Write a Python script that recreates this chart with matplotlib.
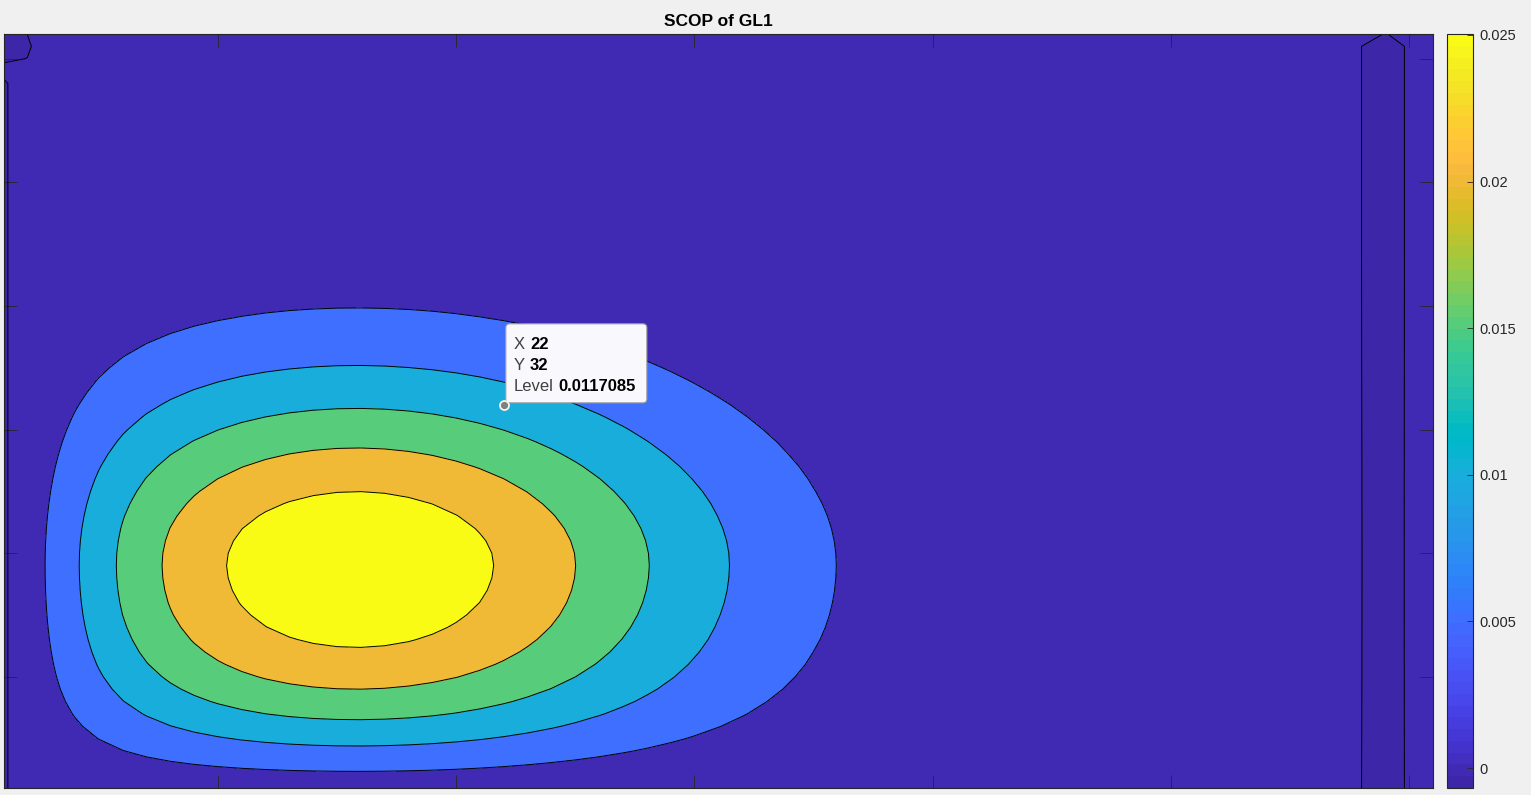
import numpy as np
import matplotlib
matplotlib.use("Agg")
import matplotlib.pyplot as plt
from matplotlib.colors import ListedColormap, Normalize
from matplotlib.cm import ScalarMappable
from matplotlib.patches import FancyBboxPatch
from matplotlib.transforms import IdentityTransform

plt.rcParams["font.family"] = ["Liberation Sans", "DejaVu Sans"]

# grid of the map
x_vals = np.arange(1, 62)
y_vals = np.arange(1, 63)

# contour levels and colour limits
levels = [0.0, 0.005, 0.01, 0.015, 0.02, 0.025]
c_min, c_max = -0.00068, 0.02503
cbar_ticks = [0, 0.005, 0.01, 0.015, 0.02, 0.025]
cbar_labels = ["0", "0.005", "0.01", "0.015", "0.02", "0.025"]

# hot spot shape, estimated from where each contour crosses the axes
peak = 0.0292
peak_x, peak_y = 15.7, 18.8
width_x = 10.8
width_y_low, width_y_high = 14.0, 11.2
wall_x, wall_x_len = 1.2, 4.2
wall_y, wall_y_len = 0.0, 6.6

# dark column near the right edge (x, added value)
dip_x = [58, 59, 60]
dip_val = [0.0, -0.00068, 0.00017]

# a few edge cells read directly (x, y, value)
cells_x = [1, 1, 1, 1, 2, 2, 2, 58, 59, 60]
cells_y = [59, 60, 61, 62, 60, 61, 62, 62, 62, 62]
cells_v = [2e-6, -1e-6, -1e-6, -1e-6, 1.1e-7, -1e-6, 4e-8, 9e-8, -1e-8, 9e-8]

# data tip
tip_x, tip_y, tip_level = 22, 32, "0.0117085"

# MATLAB parula(64)
parula = [
    [0.2422, 0.1504, 0.6603], [0.2504, 0.1650, 0.7076], [0.2578, 0.1818, 0.7511],
    [0.2647, 0.1978, 0.7952], [0.2706, 0.2147, 0.8364], [0.2751, 0.2342, 0.8710],
    [0.2783, 0.2559, 0.8991], [0.2803, 0.2782, 0.9221], [0.2813, 0.3006, 0.9414],
    [0.2810, 0.3228, 0.9579], [0.2795, 0.3447, 0.9717], [0.2760, 0.3667, 0.9829],
    [0.2699, 0.3892, 0.9906], [0.2602, 0.4123, 0.9952], [0.2440, 0.4358, 0.9988],
    [0.2206, 0.4603, 0.9973], [0.1963, 0.4847, 0.9892], [0.1834, 0.5074, 0.9798],
    [0.1786, 0.5289, 0.9682], [0.1764, 0.5499, 0.9520], [0.1687, 0.5703, 0.9359],
    [0.1540, 0.5902, 0.9218], [0.1460, 0.6091, 0.9079], [0.1380, 0.6276, 0.8973],
    [0.1248, 0.6459, 0.8883], [0.1113, 0.6635, 0.8763], [0.0952, 0.6798, 0.8598],
    [0.0689, 0.6948, 0.8394], [0.0297, 0.7082, 0.8163], [0.0036, 0.7203, 0.7917],
    [0.0067, 0.7312, 0.7660], [0.0433, 0.7411, 0.7394], [0.0964, 0.7500, 0.7120],
    [0.1408, 0.7584, 0.6842], [0.1717, 0.7670, 0.6554], [0.1938, 0.7758, 0.6251],
    [0.2161, 0.7843, 0.5923], [0.2470, 0.7918, 0.5567], [0.2906, 0.7973, 0.5188],
    [0.3406, 0.8008, 0.4789], [0.3909, 0.8029, 0.4354], [0.4456, 0.8024, 0.3909],
    [0.5044, 0.7993, 0.3480], [0.5616, 0.7942, 0.3045], [0.6174, 0.7876, 0.2612],
    [0.6720, 0.7793, 0.2227], [0.7242, 0.7698, 0.1910], [0.7738, 0.7598, 0.1646],
    [0.8203, 0.7498, 0.1535], [0.8634, 0.7406, 0.1596], [0.9035, 0.7330, 0.1774],
    [0.9393, 0.7288, 0.2100], [0.9728, 0.7298, 0.2394], [0.9956, 0.7434, 0.2371],
    [0.9970, 0.7659, 0.2199], [0.9952, 0.7893, 0.2028], [0.9892, 0.8136, 0.1885],
    [0.9786, 0.8386, 0.1766], [0.9676, 0.8639, 0.1643], [0.9610, 0.8890, 0.1537],
    [0.9597, 0.9135, 0.1423], [0.9628, 0.9373, 0.1265], [0.9691, 0.9606, 0.1064],
    [0.9769, 0.9839, 0.0805],
]


def build_field():
    X, Y = np.meshgrid(x_vals, y_vals)
    gx = np.exp(-(X - peak_x) ** 2 / (2 * width_x ** 2)) * np.tanh((X - wall_x) / wall_x_len)
    sy = np.where(Y < peak_y, width_y_low, width_y_high)
    gy = np.exp(-(Y - peak_y) ** 2 / (2 * sy ** 2)) * np.tanh((Y - wall_y) / wall_y_len)
    Z = peak * gx * gy
    for xd, v in zip(dip_x, dip_val):
        Z[:, xd - 1] += v
    for cx, cy, v in zip(cells_x, cells_y, cells_v):
        Z[cy - 1, cx - 1] = v
    return X, Y, Z


def main():
    X, Y, Z = build_field()
    cmap = ListedColormap(parula)
    norm = Normalize(c_min, c_max)

    fill_levels = [Z.min()] + levels + [Z.max()]
    fill_colors = [cmap(norm(v)) for v in fill_levels[:-1]]

    fig = plt.figure(figsize=(15.31, 7.95), dpi=100, facecolor="#f0f0f0")
    ax = fig.add_axes([3.5 / 1531, 7 / 795, 1429.5 / 1531, 754 / 795])
    ax.contourf(X, Y, Z, levels=fill_levels, colors=fill_colors)
    ax.contour(X, Y, Z, levels=levels, colors="k", linewidths=0.7)
    ax.set_xlim(1, 61)
    ax.set_ylim(1, 62)
    ax.set_xticks(range(10, 61, 10))
    ax.set_yticks(range(10, 61, 10))
    ax.tick_params(direction="in", length=9.5, width=0.6, top=True, right=True,
                   labelleft=False, labelbottom=False, colors="#262626")
    for s in ax.spines.values():
        s.set_color("#262626")
        s.set_linewidth(0.8)
    ax.set_title("SCOP of GL1", fontsize=12.5, fontweight="bold", pad=5.5)

    cax = fig.add_axes([1447 / 1531, 7 / 795, 26 / 1531, 754 / 795])
    cb = fig.colorbar(ScalarMappable(norm=norm, cmap=cmap), cax=cax)
    cb.set_ticks(cbar_ticks, labels=cbar_labels)
    cax.tick_params(direction="in", length=4.5, width=0.6, labelsize=10.5,
                    colors="#262626", pad=4.5)
    cb.outline.set_edgecolor("#262626")
    cb.outline.set_linewidth(0.8)

    # data tip
    ax.plot(tip_x, tip_y, "o", ms=6.5, mfc="#808080", mec="#f4f4ec", mew=1.3,
            zorder=6, clip_on=False)
    ax_px = ax.transData.transform((tip_x, tip_y))
    box = FancyBboxPatch((ax_px[0] + 2, ax_px[1] + 2), 141, 79,
                         boxstyle="round,pad=0,rounding_size=4",
                         fc="#f9f9fd", ec="#a0a0a0", lw=0.8, zorder=5,
                         clip_on=False)
    ax.add_artist(box)
    box.set_transform(IdentityTransform())
    rows = [("X", str(tip_x), 56), ("Y", str(tip_y), 35), ("Level", tip_level, 14)]
    for lab, val, dy in rows:
        t = ax.annotate(lab, xy=(tip_x, tip_y), xytext=(10, dy),
                        textcoords="offset pixels", fontsize=12, color="#404040",
                        va="baseline", ha="left", zorder=7, annotation_clip=False)
        ax.annotate(val, xy=(1, 0), xycoords=t, xytext=(5, 0),
                    textcoords="offset pixels", fontsize=12, fontweight="bold",
                    color="black", va="bottom", ha="left", zorder=7)

    fig.savefig("out.png", dpi=100, facecolor=fig.get_facecolor())


if __name__ == "__main__":
    main()
